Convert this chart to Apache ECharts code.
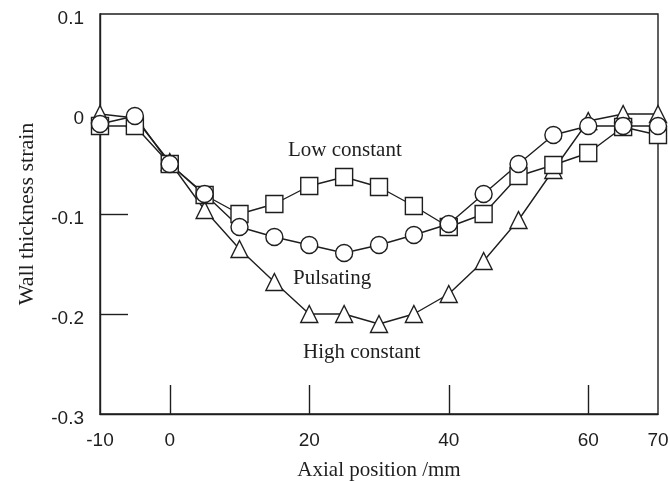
<!DOCTYPE html>
<html>
<head>
<meta charset="utf-8">
<script src="https://cdn.jsdelivr.net/npm/echarts@6/dist/echarts.min.js"></script>
<style>
  html, body { margin: 0; padding: 0; background: #fff; }
  #chart { width: 670px; height: 481px; }
</style>
</head>
<body>
<div id="chart"></div>
<script>
// axial positions (mm)
var positions = [-10, -5, 0, 5, 10, 15, 20, 25, 30, 35, 40, 45, 50, 55, 60, 65, 70];
// wall thickness strain per loading path
var lowConstant  = [-0.012, -0.012, -0.05, -0.081, -0.1, -0.09, -0.072, -0.063, -0.073, -0.092, -0.113, -0.1, -0.062, -0.051, -0.039, -0.013, -0.021];
var pulsating    = [-0.01, -0.002, -0.05, -0.08, -0.113, -0.123, -0.131, -0.139, -0.131, -0.121, -0.11, -0.08, -0.05, -0.021, -0.012, -0.012, -0.012];
var highConstant = [0, -0.004, -0.048, -0.096, -0.135, -0.168, -0.2, -0.2, -0.21, -0.2, -0.18, -0.147, -0.106, -0.056, -0.007, 0, 0];
var xTickLabels = [-10, 0, 20, 40, 60, 70];
var xTicks = [0, 20, 40, 60];
var yTickLabels = [0.1, 0, -0.1, -0.2, -0.3];
var yTicks = [-0.1, -0.2];

var ink = '#1e1e1e';

function pairs(ys) {
  return positions.map(function (x, i) { return [x, ys[i]]; });
}

function makeSeries(name, symbol, ys) {
  return {
    name: name,
    type: 'line',
    data: pairs(ys),
    symbol: symbol,
    symbolSize: 17,
    showAllSymbol: true,
    lineStyle: { color: ink, width: 1.4 },
    itemStyle: { color: '#fff', borderColor: ink, borderWidth: 1.4 },
    emphasis: { disabled: true },
    animation: false
  };
}

var chart = echarts.init(document.getElementById('chart'));
chart.setOption({
  backgroundColor: '#fff',
  grid: {
    left: 100, right: 12, top: 14, bottom: 67,
    containLabel: false, outerBoundsMode: 'none',
    show: true, borderColor: ink, borderWidth: 1.4
  },
  xAxis: {
    type: 'value',
    min: -10, max: 70, interval: 10,
    name: 'Axial position /mm',
    nameLocation: 'middle',
    nameGap: 46,
    nameTextStyle: { fontFamily: 'Liberation Serif', fontSize: 21, color: ink },
    axisLine: { onZero: false, lineStyle: { color: ink, width: 1.4 } },
    axisTick: { inside: true, length: 29, customValues: xTicks, lineStyle: { color: ink, width: 1.4 } },
    axisLabel: {
      customValues: xTickLabels, margin: 17,
      fontFamily: 'Liberation Sans', fontSize: 19, color: ink
    },
    splitLine: { show: false }
  },
  yAxis: {
    type: 'value',
    min: -0.3, max: 0.1, interval: 0.1,
    name: 'Wall thickness strain',
    nameLocation: 'middle',
    nameGap: 62,
    nameTextStyle: { fontFamily: 'Liberation Serif', fontSize: 22, color: ink },
    axisLine: { onZero: false, lineStyle: { color: ink, width: 1.4 } },
    axisTick: { inside: true, length: 28, customValues: yTicks, lineStyle: { color: ink, width: 1.4 } },
    axisLabel: {
      customValues: yTickLabels, margin: 16,
      verticalAlign: 'top', lineHeight: 10,
      fontFamily: 'Liberation Sans', fontSize: 19, color: ink,
      formatter: function (v) { return v === 0 ? '0' : String(Math.round(v * 10) / 10); }
    },
    splitLine: { show: false }
  },
  graphic: [
    { type: 'text', left: 288, top: 140, style: { text: 'Low constant', font: '21px "Liberation Serif"', fill: ink } },
    { type: 'text', left: 293, top: 268, style: { text: 'Pulsating', font: '21px "Liberation Serif"', fill: ink } },
    { type: 'text', left: 303, top: 342, style: { text: 'High constant', font: '21px "Liberation Serif"', fill: ink } }
  ],
  series: [
    makeSeries('High constant', 'triangle', highConstant),
    makeSeries('Low constant', 'rect', lowConstant),
    makeSeries('Pulsating', 'circle', pulsating)
  ]
});
</script>
</body>
</html>
